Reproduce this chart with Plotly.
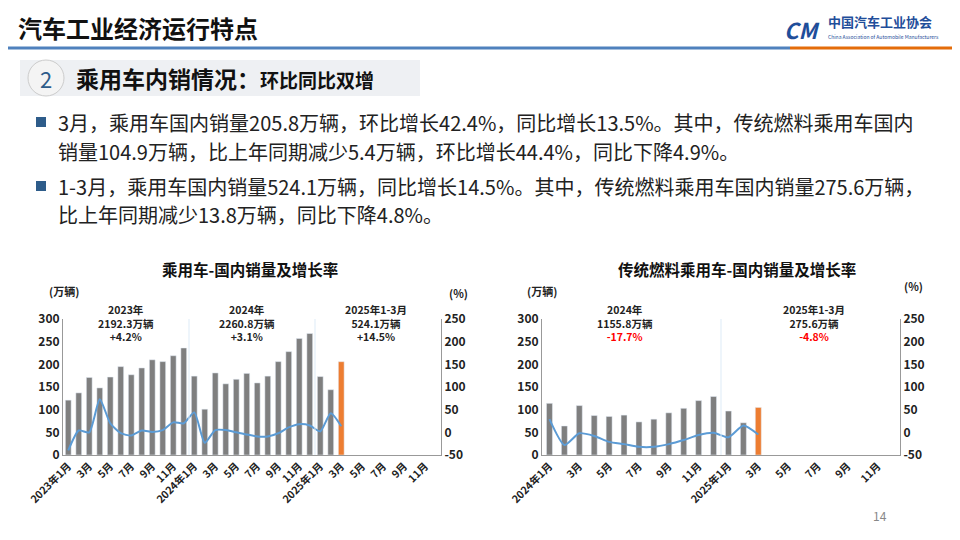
import plotly.graph_objects as go

F = "Noto Sans CJK SC"
# ---- data ----
left_cats = [f"{y}-{m:02d}" for y in (2023, 2024, 2025) for m in range(1, 13)]
left_ticktext = ["2023年1月", "3月", "5月", "7月", "9月", "11月",
                 "2024年1月", "3月", "5月", "7月", "9月", "11月",
                 "2025年1月", "3月", "5月", "7月", "9月", "11月"]
left_sales = [121, 137, 171, 148, 172, 195, 177, 192, 210, 206, 219, 236,
              174, 101, 181, 157, 167, 180, 159, 174, 206, 228, 257, 268,
              173, 144, 205.8]
left_growth = [-40, 4, 0, 73, 20, -2, -7, 4, 1, 5, 22, 20,
               44, -23, 5, 5, 0, -5, -9, -9, -2, 11, 18, 15,
               2, 42, 13.5]

right_cats = [f"{y}-{m:02d}" for y in (2024, 2025) for m in range(1, 13)]
right_ticktext = ["2024年1月", "3月", "5月", "7月", "9月", "11月",
                  "2025年1月", "3月", "5月", "7月", "9月", "11月"]
right_sales = [114, 64, 109, 87, 85, 88, 73, 79, 93, 103, 120, 129,
               97, 71, 104.9]
right_growth = [29, -28, -2, -8, -21, -26, -32, -32, -26, -17, -6, -1,
                -11, 15, -4.9]

GRAY = "#7f7f7f"
ORANGE = "#ED7D31"
BLUE = "#5B9BD5"
OFF = 8  # page body margin compensation

def PX(x):
    return (x - OFF) / 960
def PY(y):
    return 1 - (y - OFF) / 540

def colors(n):
    return [GRAY] * (n - 1) + [ORANGE]

fig = go.Figure()
fig.add_bar(x=left_cats[:len(left_sales)], y=left_sales, marker_color=colors(len(left_sales)),
            xaxis="x", yaxis="y", showlegend=False)
fig.add_scatter(x=left_cats[:len(left_growth)], y=left_growth, mode="lines",
                line=dict(color=BLUE, width=2, shape="spline", smoothing=0.6),
                xaxis="x", yaxis="y2", showlegend=False)
fig.add_bar(x=right_cats[:len(right_sales)], y=right_sales, marker_color=colors(len(right_sales)),
            xaxis="x2", yaxis="y3", showlegend=False, width=0.4)
fig.add_scatter(x=right_cats[:len(right_growth)], y=right_growth, mode="lines",
                line=dict(color=BLUE, width=2, shape="spline", smoothing=0.6),
                xaxis="x2", yaxis="y4", showlegend=False)

tickf = dict(family=F, size=10.5, color="#222")
def xax(dom, cats, tt, anchor):
    return dict(domain=dom, type="category", categoryorder="array", categoryarray=cats,
                range=[-0.5, len(cats) - 0.5], tickvals=cats[::2], ticktext=[f"<b>{s}</b>" for s in tt],
                tickangle=-45, tickfont=tickf, showline=True, linecolor="#999",
                ticks="", anchor=anchor, showgrid=False, automargin=False)
def yax(dom, rng, dtick, anchor, side="left", overlay=None):
    vals = list(range(rng[0], rng[1] + 1, dtick))
    d = dict(domain=dom, range=rng, tickvals=vals, ticktext=[f"<b>{v}</b>" for v in vals],
             tickfont=dict(family=F, size=12, color="#222"),
             showgrid=False, zeroline=False, showline=True, linecolor="#999",
             anchor=anchor, side=side, ticks="", automargin=False)
    if overlay:
        d["overlaying"] = overlay
    return d

ydom = [PY(455), PY(319)]
fig.update_layout(
    width=960, height=540, margin=dict(l=0, r=0, t=0, b=0),
    paper_bgcolor="white", plot_bgcolor="rgba(0,0,0,0)",
    bargap=0.45, font=dict(family=F),
    xaxis=xax([PX(63), PX(441)], left_cats, left_ticktext, "y"),
    yaxis=yax(ydom, [0, 300], 50, "x"),
    yaxis2=yax(ydom, [-50, 250], 50, "x", "right", "y"),
    xaxis2=xax([PX(542), PX(900)], right_cats, right_ticktext, "y3"),
    yaxis3=yax(ydom, [0, 300], 50, "x2"),
    yaxis4=yax(ydom, [-50, 250], 50, "x2", "right", "y3"),
)

def rect(x0, y0, x1, y1, **kw):
    return dict(type="rect", xref="paper", yref="paper", x0=PX(x0), x1=PX(x1), y0=PY(y1), y1=PY(y0), **kw)

shapes = [
    dict(type="line", xref="x", yref="y", x0=11.5, x1=11.5, y0=0, y1=300, line=dict(color="#DDEBF7", width=1)),
    dict(type="line", xref="x", yref="y", x0=23.5, x1=23.5, y0=0, y1=300, line=dict(color="#DDEBF7", width=1)),
    dict(type="line", xref="x2", yref="y3", x0=11.5, x1=11.5, y0=0, y1=310, line=dict(color="#DDEBF7", width=1)),
    dict(type="line", xref="paper", yref="paper", x0=0, x1=PX(790), y0=PY(48), y1=PY(48),
         line=dict(color="#4F81BD", width=3)),
    dict(type="line", xref="paper", yref="paper", x0=PX(790), x1=1, y0=PY(48), y1=PY(48),
         line=dict(color="#E46C0A", width=3)),
    rect(20, 60, 420, 96, fillcolor="#EEF0F3", line=dict(width=0), layer="below"),
    dict(type="circle", xref="paper", yref="paper", x0=PX(28), x1=PX(64), y0=PY(96), y1=PY(60),
         fillcolor="#F4F4F4", line=dict(color="#CCCCCC", width=1)),
    rect(36, 117, 46, 127, fillcolor="#2E5C8A", line=dict(width=0)),
    rect(36, 181, 46, 191, fillcolor="#2E5C8A", line=dict(width=0)),
]
fig.update_layout(shapes=shapes)

def t(x, y, s, size=12, color="#222", bold=False, anchor="center"):
    txt = f"<b>{s}</b>" if bold else s
    return dict(xref="paper", yref="paper", x=PX(x), y=PY(y), text=txt, showarrow=False,
                font=dict(family=F, size=size, color=color), xanchor=anchor, yanchor="middle",
                align=anchor if anchor != "center" else "center")

ann = [
    t(16, 27, "汽车工业经济运行特点", 24, "#111", True, "left"),
    t(826, 22, "中国汽车工业协会", 13, "#1F4E9A", True, "left"),
    t(826, 37, "China Association of Automobile Manufacturers", 5, "#1F4E9A", False, "left"),
    t(782, 29, "<i>CM</i>", 22, "#1F4E9A", True, "left"),
    t(46, 78, "2", 22, "#2E5C8A", False),
    t(74, 78, "乘用车内销情况：<span style='font-size:19px'>环比同比双增</span>", 23, "#111", True, "left"),
    t(56, 122, "3月，乘用车国内销量205.8万辆，环比增长42.4%，同比增长13.5%。其中，传统燃料乘用车国内", 20, "#222", False, "left"),
    t(56, 151, "销量104.9万辆，比上年同期减少5.4万辆，环比增长44.4%，同比下降4.9%。", 20, "#222", False, "left"),
    t(56, 186, "1-3月，乘用车国内销量524.1万辆，同比增长14.5%。其中，传统燃料乘用车国内销量275.6万辆，", 20, "#222", False, "left"),
    t(56, 215, "比上年同期减少13.8万辆，同比下降4.8%。", 20, "#222", False, "left"),
    t(250, 269, "乘用车-国内销量及增长率", 15.5, "#111", True),
    t(737, 269, "传统燃料乘用车-国内销量及增长率", 15.5, "#111", True),
    t(64, 291, "(万辆)", 11, "#222", True),
    t(458, 293, "(%)", 11, "#222", True),
    t(542, 291, "(万辆)", 11, "#222", True),
    t(913, 286, "(%)", 11, "#222", True),
    t(126, 323, "2023年<br>2192.3万辆<br>+4.2%", 10.5, "#222", True),
    t(247, 323, "2024年<br>2260.8万辆<br>+3.1%", 10.5, "#222", True),
    t(376, 323, "2025年1-3月<br>524.1万辆<br>+14.5%", 10.5, "#222", True),
    t(625, 323, "2024年<br>1155.8万辆<br><span style='color:#FF0000'>-17.7%</span>", 10.5, "#222", True),
    t(814, 323, "2025年1-3月<br>275.6万辆<br><span style='color:#FF0000'>-4.8%</span>", 10.5, "#222", True),
    t(880, 515, "14", 12, "#888"),
]
fig.update_layout(annotations=ann)
fig.write_html("out.html")
